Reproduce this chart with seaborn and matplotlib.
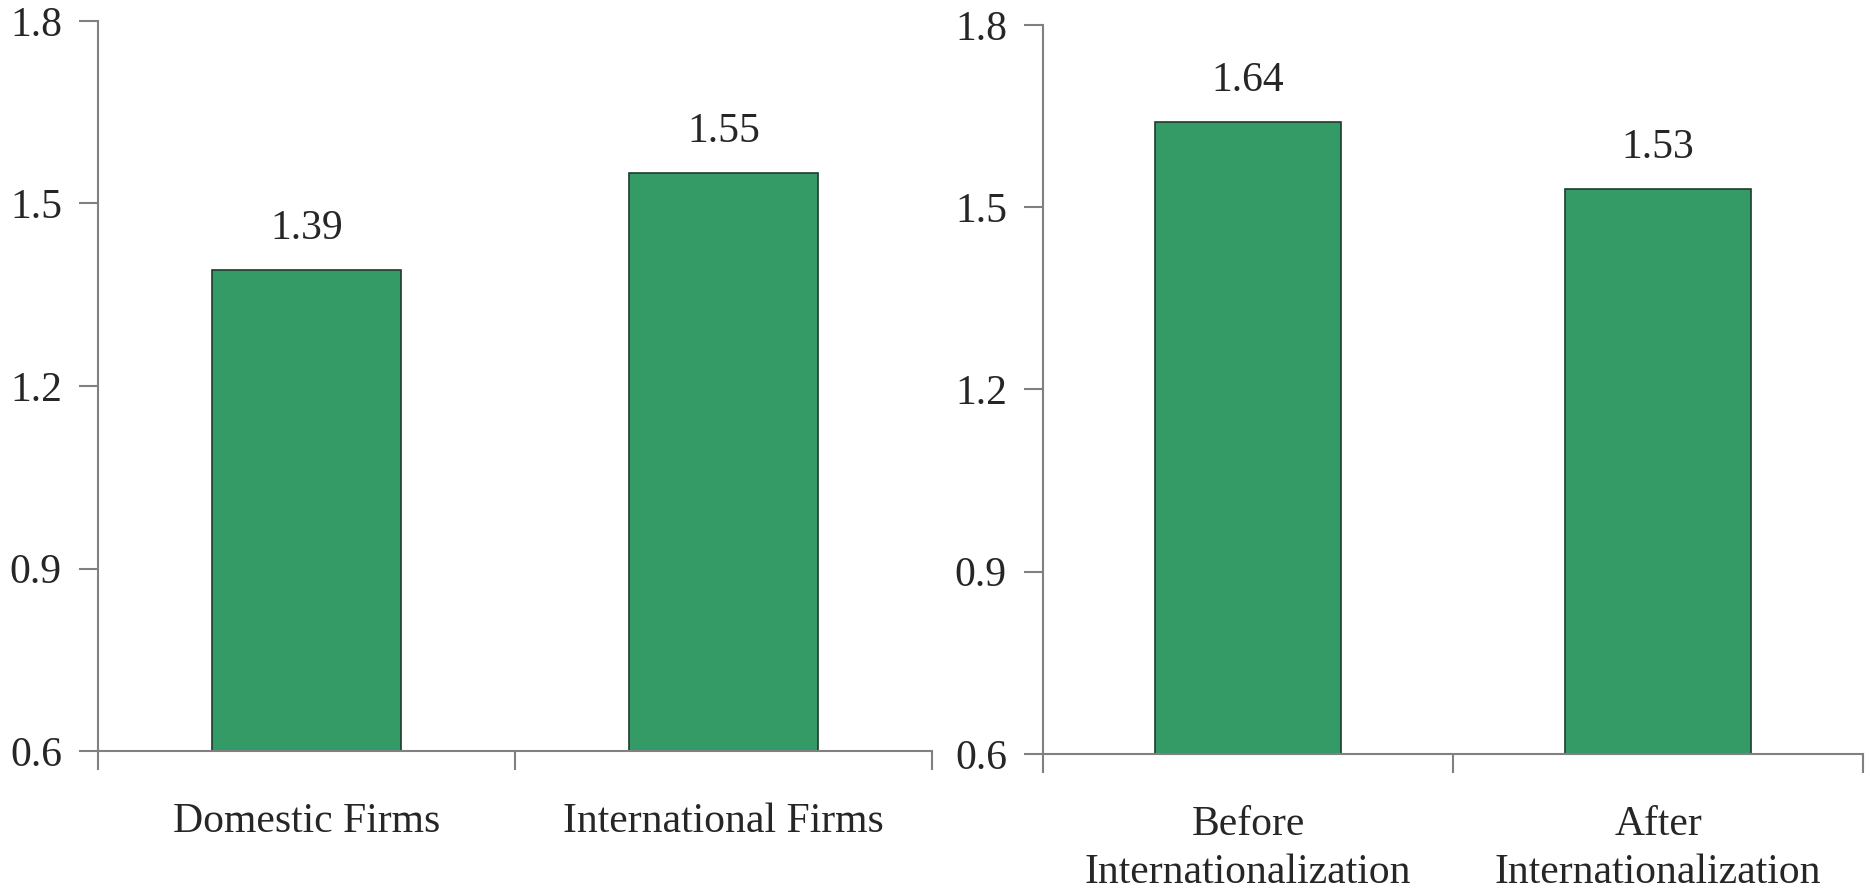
import numpy as np
import pandas as pd
import matplotlib
matplotlib.use("Agg")
import matplotlib.pyplot as plt
import seaborn as sns

# data
left_cats = ["Domestic Firms", "International Firms"]
left_vals = [1.39, 1.55]
right_cats = ["Before\nInternationalization", "After\nInternationalization"]
right_vals = [1.64, 1.53]
y_ticks = [0.6, 0.9, 1.2, 1.5, 1.8]

sns.set_style("white")
plt.rcParams["font.family"] = ["Liberation Serif", "DejaVu Serif"]
plt.rcParams["font.size"] = 30

bar_color = "#349B67"
axis_color = "#808080"

fig = plt.figure(figsize=(18.7, 8.93), dpi=100)
ax1 = fig.add_axes([0.0524, 0.159, 0.446, 0.8175])
ax2 = fig.add_axes([0.5578, 0.1557, 0.4385, 0.8163])


def draw_panel(ax, cats, vals):
    df = pd.DataFrame({"cat": cats, "val": vals})
    sns.barplot(data=df, x="cat", y="val", ax=ax, color=bar_color, saturation=1,
                width=0.455, edgecolor="#1f3b2c", linewidth=1.2)
    ax.set_ylim(0.6, 1.8)
    ax.set_xlim(-0.5, 1.5)
    ax.set_yticks(y_ticks)
    ax.set_yticklabels([f"{t:.1f}" for t in y_ticks])
    # category boundaries as major ticks, labels on minor ticks
    ax.set_xticks([-0.5, 0.5, 1.5])
    ax.set_xticklabels(["", "", ""])
    ax.set_xticks([0, 1], minor=True)
    ax.set_xticklabels(cats, minor=True, linespacing=1.32)
    ax.tick_params(axis="x", which="minor", length=0, pad=37)
    ax.tick_params(axis="x", which="major", direction="out", length=14, width=1.5,
                   color=axis_color, bottom=True)
    ax.tick_params(axis="y", direction="out", length=14, width=1.5, color=axis_color,
                   left=True, pad=12)
    ax.set_xlabel("")
    ax.set_ylabel("")
    for s in ["top", "right"]:
        ax.spines[s].set_visible(False)
    for s in ["left", "bottom"]:
        ax.spines[s].set_color(axis_color)
        ax.spines[s].set_linewidth(1.5)
    for i, v in enumerate(vals):
        ax.annotate(f"{v:.2f}", (i, v), xytext=(0, 16), textcoords="offset points",
                    ha="center", va="bottom", fontsize=30)


draw_panel(ax1, left_cats, left_vals)
draw_panel(ax2, right_cats, right_vals)

fig.savefig("out.png", dpi=100)
